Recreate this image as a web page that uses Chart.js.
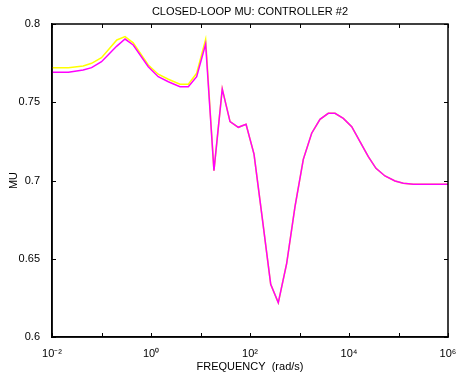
<!DOCTYPE html>
<html>
<head>
<meta charset="utf-8">
<script src="https://cdn.jsdelivr.net/npm/chart.js@4"></script>
<style>
html,body{margin:0;padding:0;background:#fff;}
#wrap{width:456px;height:378px;}
</style>
</head>
<body>
<div id="wrap"><canvas id="c" width="456" height="378"></canvas></div>
<script>
// Frequencies (rad/s)
const freq = [0.01, 0.0214, 0.0427, 0.0631, 0.1, 0.204, 0.299, 0.437, 0.881, 1.40, 2.24, 3.85, 5.68, 8.37, 12.7, 18.7, 27.5, 39.5, 58.1, 83.2, 120.5, 172, 262, 373, 551, 811, 1194, 1762, 2594, 3819, 5212, 7674, 11350, 16670, 24550, 35070, 53330, 85110, 125000, 199500, 1000000];
// Closed-loop mu, controller #2 (magenta)
const muMagenta = [0.7691, 0.7691, 0.7706, 0.7721, 0.7759, 0.7859, 0.7904, 0.7866, 0.7727, 0.7663, 0.7631, 0.7599, 0.7599, 0.7663, 0.7872, 0.7063, 0.7585, 0.7376, 0.7340, 0.7359, 0.7169, 0.6790, 0.6337, 0.6219, 0.6471, 0.6833, 0.7135, 0.7302, 0.7391, 0.7429, 0.7429, 0.7397, 0.7344, 0.7248, 0.7152, 0.7078, 0.7029, 0.6997, 0.6982, 0.6976, 0.6976];
// Second curve (yellow)
const muYellow = [0.7721, 0.7721, 0.7732, 0.7749, 0.7785, 0.7898, 0.7919, 0.7880, 0.7738, 0.7679, 0.7647, 0.7615, 0.7615, 0.7685, 0.7902, 0.7063, 0.7585, 0.7376, 0.7340, 0.7359, 0.7169, 0.6790, 0.6337, 0.6219, 0.6471, 0.6833, 0.7135, 0.7302, 0.7391, 0.7429, 0.7429, 0.7397, 0.7344, 0.7248, 0.7152, 0.7078, 0.7029, 0.6997, 0.6982, 0.6976, 0.6976];
const xTickValues = [1e-2, 1e-1, 1e0, 1e1, 1e2, 1e3, 1e4, 1e5, 1e6];
const xTickLabels = ['10\u207B\u00B2', '', '10\u2070', '', '10\u00B2', '', '10\u2074', '', '10\u2076'];
const yTickValues = [0.6, 0.65, 0.7, 0.75, 0.8];
const yTickLabels = ['0.6', '0.65', '0.7', '0.75', '0.8'];

const FONT = "'Liberation Sans', Arial, sans-serif";

const frameTicksPlugin = {
  id: 'frameTicks',
  afterDraw(chart) {
    const ctx = chart.ctx, a = chart.chartArea;
    const xs = chart.scales.x, ys = chart.scales.y;
    ctx.save();
    ctx.strokeStyle = '#000000';
    ctx.lineWidth = 1;
    ctx.beginPath();
    for (const v of xTickValues) {
      const px = Math.round(xs.getPixelForValue(v)) + 0.5;
      ctx.moveTo(px, a.bottom); ctx.lineTo(px, a.bottom - 4);
      ctx.moveTo(px, a.top); ctx.lineTo(px, a.top + 4);
    }
    for (const v of yTickValues) {
      const py = Math.round(ys.getPixelForValue(v)) + 0.5;
      ctx.moveTo(a.left, py); ctx.lineTo(a.left + 4, py);
      ctx.moveTo(a.right, py); ctx.lineTo(a.right - 4, py);
    }
    ctx.stroke();
    ctx.lineWidth = 1.5;
    ctx.beginPath();
    ctx.rect(a.left, a.top, a.right - a.left, a.bottom - a.top);
    ctx.stroke();
    ctx.restore();
  }
};

new Chart(document.getElementById('c'), {
  type: 'line',
  data: {
    datasets: [
      { label: 'magenta', data: freq.map((f, i) => ({x: f, y: muMagenta[i]})), borderColor: '#ff00ff', borderWidth: 1.5, pointRadius: 0, tension: 0, fill: false, order: 0 },
      { label: 'yellow', data: freq.map((f, i) => ({x: f, y: muYellow[i]})), borderColor: '#ffff00', borderWidth: 1.5, pointRadius: 0, tension: 0, fill: false, order: 1 }
    ]
  },
  options: {
    responsive: false,
    animation: false,
    devicePixelRatio: 1,
    layout: { padding: { left: 0, right: 8, top: 0, bottom: 0 } },
    plugins: {
      legend: { display: false },
      tooltip: { enabled: false },
      title: {
        display: true,
        text: 'CLOSED-LOOP MU: CONTROLLER #2',
        fullSize: false,
        color: '#000',
        font: { family: FONT, size: 11, weight: 'normal', lineHeight: 1.2 },
        padding: { top: 5, bottom: 5.8 }
      }
    },
    scales: {
      x: {
        type: 'logarithmic',
        min: 1e-2, max: 1e6,
        grid: { display: false },
        border: { display: true, color: '#000', width: 1.5 },
        afterBuildTicks(scale) { scale.ticks = xTickValues.map(v => ({ value: v })); },
        afterFit(scale) { scale.height = 41; scale.paddingLeft = 0; scale.paddingRight = 0; },
        ticks: {
          autoSkip: false, maxRotation: 0, minRotation: 0, padding: 2,
          color: '#000',
          font: { family: FONT, size: 11 },
          callback: (v) => { const i = xTickValues.findIndex(t => Math.abs(Math.log10(t) - Math.log10(v)) < 1e-6); return i >= 0 ? xTickLabels[i] : ''; }
        },
        title: { display: true, text: 'FREQUENCY  (rad/s)', color: '#000', font: { family: FONT, size: 11 }, padding: { top: 0, bottom: 4 } }
      },
      y: {
        type: 'linear',
        min: 0.6, max: 0.8,
        grid: { display: false },
        border: { display: true, color: '#000', width: 1.5 },
        afterBuildTicks(scale) { scale.ticks = yTickValues.map(v => ({ value: v })); },
        afterFit(scale) { scale.width = 52; },
        ticks: {
          padding: 4, color: '#000',
          font: { family: FONT, size: 11 },
          callback: (v) => { const i = yTickValues.findIndex(t => Math.abs(t - v) < 1e-9); return i >= 0 ? yTickLabels[i] : ''; }
        },
        title: { display: true, text: 'MU', color: '#000', font: { family: FONT, size: 11 }, padding: { top: 7, bottom: 0 } }
      }
    }
  },
  plugins: [frameTicksPlugin]
});
</script>
</body>
</html>
